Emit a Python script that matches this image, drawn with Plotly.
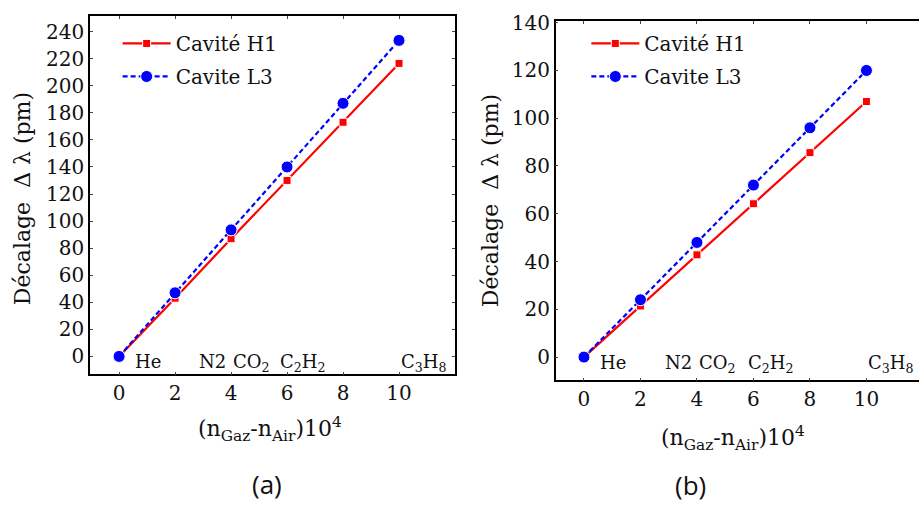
import plotly.graph_objects as go

# Refractive index contrast (n_gaz - n_air) x 1e4
x_index = [0, 2, 4, 6, 8, 10]

# Resonance shift (pm), panel (a)
shift_h1_a = [0, 43, 87, 130, 173, 216.5]
shift_l3_a = [0, 47, 93.5, 140, 187, 233.5]

# Resonance shift (pm), panel (b)
shift_h1_b = [0, 21.4, 42.8, 64.2, 85.6, 107]
shift_l3_b = [0, 24, 48, 72, 96, 120]

# Gas labels placed along the x axis
gas_names = ["He", "N2", "CO<sub>2</sub>", "C<sub>2</sub>H<sub>2</sub>", "C<sub>3</sub>H<sub>8</sub>"]
gas_x_a = [0.5, 2.8, 4.0, 5.68, 10.0]
gas_x_b = [0.5, 2.8, 4.0, 5.72, 10.0]

y_ticks_a = [0, 20, 40, 60, 80, 100, 120, 140, 160, 180, 200, 220, 240]
y_ticks_b = [0, 20, 40, 60, 80, 100, 120, 140]
x_ticks = [0, 2, 4, 6, 8, 10]

SERIF = "DejaVu Serif"
RED = "#ff0000"
BLUE = "#0000ff"
INK = "#111111"

fig = go.Figure()

def add_pair(xa, ya, h1, l3, legend):
    fig.add_trace(go.Scatter(
        x=x_index, y=h1, mode="lines+markers", name="Cavité H1",
        xaxis=xa, yaxis=ya, legend=legend, legendgroup=legend + "_h1",
        line=dict(color=RED, width=2.2),
        marker=dict(symbol="square", size=8, color=RED,
                    line=dict(color="white", width=1)),
    ))
    fig.add_trace(go.Scatter(
        x=x_index, y=l3, mode="lines+markers", name="Cavite L3",
        xaxis=xa, yaxis=ya, legend=legend, legendgroup=legend + "_l3",
        line=dict(color=BLUE, width=2.2, dash="5px,3px"),
        marker=dict(symbol="circle", size=12, color=BLUE,
                    line=dict(color="white", width=1)),
    ))

add_pair("x", "y", shift_h1_a, shift_l3_a, "legend")
add_pair("x2", "y2", shift_h1_b, shift_l3_b, "legend2")

axis_common = dict(
    showline=True, linecolor="black", linewidth=1.5,
    ticks="inside", ticklen=3, tickcolor="#444", tickwidth=1,
    showgrid=False, zeroline=False,
    tickfont=dict(family=SERIF, size=20, color=INK),
)

legend_common = dict(
    xanchor="left", yanchor="top", bgcolor="rgba(0,0,0,0)", itemwidth=48,
    font=dict(family=SERIF, size=20, color=INK),
    traceorder="grouped", tracegroupgap=4,
)

fig.update_layout(
    width=919, height=509,
    margin=dict(l=0, r=0, t=0, b=0),
    paper_bgcolor="white", plot_bgcolor="white",
    showlegend=True,
    xaxis=dict(domain=[0.0979, 0.4951], range=[-1.04, 12.0], anchor="y",
               tickvals=x_ticks, mirror="ticks", ticklabelstandoff=0, **axis_common),
    yaxis=dict(domain=[0.2697, 0.9882], range=[-13.3, 251.6], anchor="x",
               tickvals=y_ticks_a, mirror="ticks", **axis_common),
    xaxis2=dict(domain=[0.6047, 1.0], range=[-1.0, 11.86], anchor="y2",
                tickvals=x_ticks, mirror="ticks", ticklabelstandoff=0, **axis_common),
    yaxis2=dict(domain=[0.258, 0.9784], range=[-9.7, 140.8], anchor="x2",
                tickvals=y_ticks_b, mirror=False, **axis_common),
    legend=dict(x=0.128, y=0.972, **legend_common),
    legend2=dict(x=0.638, y=0.972, **legend_common),
)

annotations = []

# Gas names along the bottom of each panel
for name, gx in zip(gas_names, gas_x_a):
    annotations.append(dict(x=gx, y=5.5, xref="x", yref="y", text=name,
                            showarrow=False, xanchor="left", yanchor="top",
                            font=dict(family=SERIF, size=18, color=INK)))
for name, gx in zip(gas_names, gas_x_b):
    annotations.append(dict(x=gx, y=3.0, xref="x2", yref="y2", text=name,
                            showarrow=False, xanchor="left", yanchor="top",
                            font=dict(family=SERIF, size=18, color=INK)))

# Axis titles
ytitle = "Décalage  Δ λ (pm)"
xtitle = "(n<sub>Gaz</sub>-n<sub>Air</sub>)10<sup>4</sup>"
for cx, cy in [(22, 193), (490, 195)]:
    annotations.append(dict(x=cx / 919, y=1 - cy / 509, xref="paper", yref="paper",
                            text=ytitle, textangle=-90, showarrow=False,
                            xanchor="center", yanchor="middle",
                            font=dict(family=SERIF, size=22, color=INK)))
for cx, cy in [(270, 427), (733, 437)]:
    annotations.append(dict(x=cx / 919, y=1 - cy / 509, xref="paper", yref="paper",
                            text=xtitle, showarrow=False,
                            xanchor="center", yanchor="middle",
                            font=dict(family=SERIF, size=22, color=INK)))

# Panel tags
for tag, cx, cy in [("(a)", 267, 483), ("(b)", 690, 485)]:
    annotations.append(dict(x=cx / 919, y=1 - cy / 509, xref="paper", yref="paper",
                            text=tag, showarrow=False,
                            xanchor="center", yanchor="middle",
                            font=dict(family="Open Sans", size=26, color=INK)))

fig.update_layout(annotations=annotations)

fig.write_html("out.html")
